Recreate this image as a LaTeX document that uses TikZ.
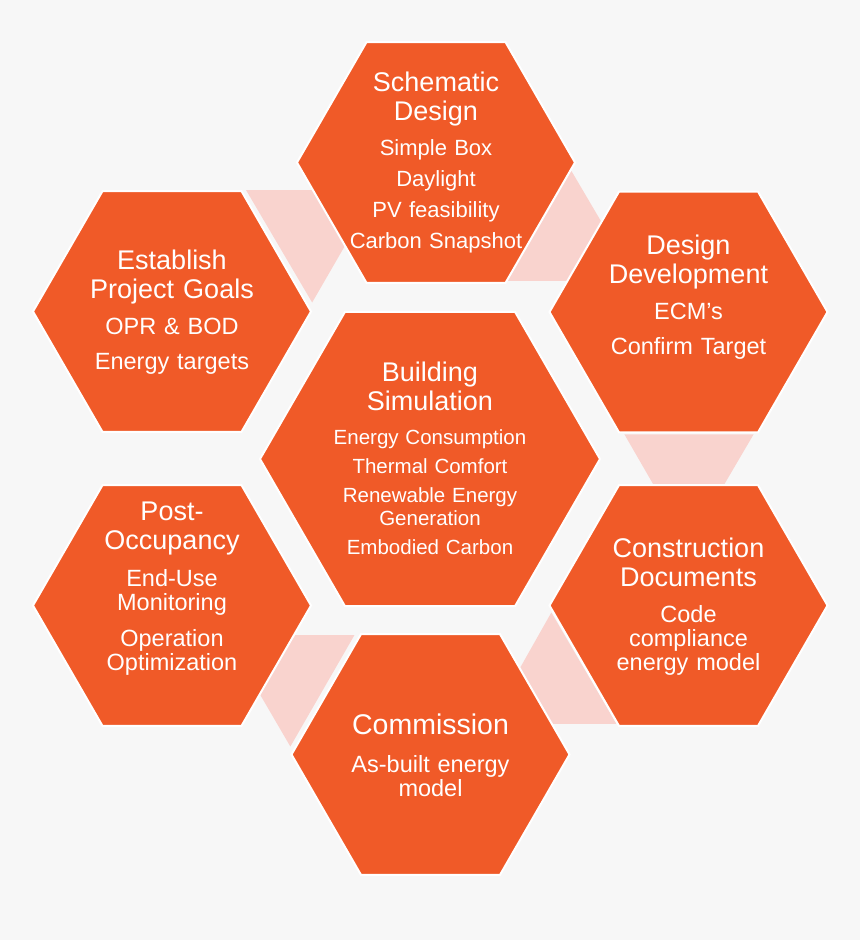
\documentclass[tikz,border=0pt]{standalone}
\usepackage{xcolor}
\usepackage{fontspec}
\setmainfont{Liberation Sans}
\usepackage{tikz}
\usetikzlibrary{shapes.geometric, calc, backgrounds}
\definecolor{hexorange}{HTML}{F05A28}
\definecolor{linkpink}{HTML}{F9D3CE}
\definecolor{backgray}{HTML}{F7F7F7}
\tikzstyle{phase} = [regular polygon, regular polygon sides=6, minimum size=278pt, inner sep=0pt, draw=white, line width=2pt, fill=hexorange]
\tikzstyle{core} = [phase, minimum size=340pt]
\tikzstyle{link} = [fill=linkpink]
\tikzstyle{heading} = [anchor=base, text width=300pt, align=center, inner sep=0pt, text=white, font=\fontsize{27}{29}\selectfont]
\tikzstyle{items} = [heading, font=\fontsize{23.5}{24}\selectfont]

\begin{document}
\begin{tikzpicture}[x=1pt, y=-1pt]

  \node (goals hex) [phase] at (172,311.5) {};
  \node (schem hex) [phase] at (436,162.5) {};
  \node (dev hex) [phase] at (688.5,312) {};
  \node (sim hex) [core] at (430,459) {};
  \node (post hex) [phase] at (172,605.5) {};
  \node (docs hex) [phase] at (688.5,605.5) {};
  \node (comm hex) [phase] at (430.5,754.5) {};

  \begin{scope}[on background layer]
    \fill[backgray] (0,0) rectangle (860,940);
    % links between the steps
    \fill[link] ($(goals hex.corner 1)+(4,0)$) -- ($(goals hex.corner 1)+(135,0)$) -- ($(goals hex.corner 6)+(0,-9)$) -- cycle;
    \fill[link] ($(schem hex.corner 5)+(-2,-3)$) -- ($(schem hex.corner 5)+(130,-3)$) -- ($(schem hex.corner 6)+(-5,8)$) -- cycle;
    \fill[link] ($(dev hex.corner 4)+(6,1)$) -- ($(dev hex.corner 5)+(-5,1)$) -- ($(dev hex.corner 4)!0.5!(dev hex.corner 5)+(0,112)$) -- cycle;
    \fill[link] ($(docs hex.corner 3)+(3,7)$) -- ($(docs hex.corner 4)+(-2,-3)$) -- ($(docs hex.corner 4)+(-130,-3)$) -- cycle;
    \fill[link] ($(comm hex.corner 2)+(-6,2)$) -- ($(comm hex.corner 2)+(-135,2)$) -- ($(comm hex.corner 3)+(0,-8)$) -- cycle;
  \end{scope}

  \node (schem title) [heading] at (436,91) {Schematic\\Design};
  \node (schem list) [items, font=\fontsize{22}{31.3}\selectfont] at (436,155) {Simple Box\\Daylight\\PV feasibility\\Carbon Snapshot};

  \node (goals title) [heading] at (172,269) {Establish\\Project Goals};
  \node (goals list) [items, font=\fontsize{23.5}{35}\selectfont] at (172,334) {OPR \& BOD\\Energy targets};

  \node (dev title) [heading] at (688.5,254) {Design\\Development};
  \node (dev list) [items, font=\fontsize{23.5}{35}\selectfont] at (688.5,319) {ECM’s\\Confirm Target};

  \node (sim title) [heading] at (430,381) {Building\\Simulation};
  \node (sim list) [items, font=\fontsize{20.5}{23}\selectfont] at (430,444) {Energy Consumption\\[6.5pt]Thermal Comfort\\[6pt]Renewable Energy\\Generation\\[6pt]Embodied Carbon};

  \node (post title) [heading] at (172,520) {Post-\\Occupancy};
  \node (post list) [items] at (172,586) {End-Use\\Monitoring\\[12pt]Operation\\Optimization};

  \node (docs title) [heading] at (688.5,557) {Construction\\Documents};
  \node (docs list) [items] at (688.5,622) {Code\\compliance\\energy model};

  \node (comm title) [heading, font=\fontsize{28.5}{30}\selectfont] at (430.5,734) {Commission};
  \node (comm list) [items] at (430.5,772) {As-built energy\\model};

\end{tikzpicture}
\end{document}
